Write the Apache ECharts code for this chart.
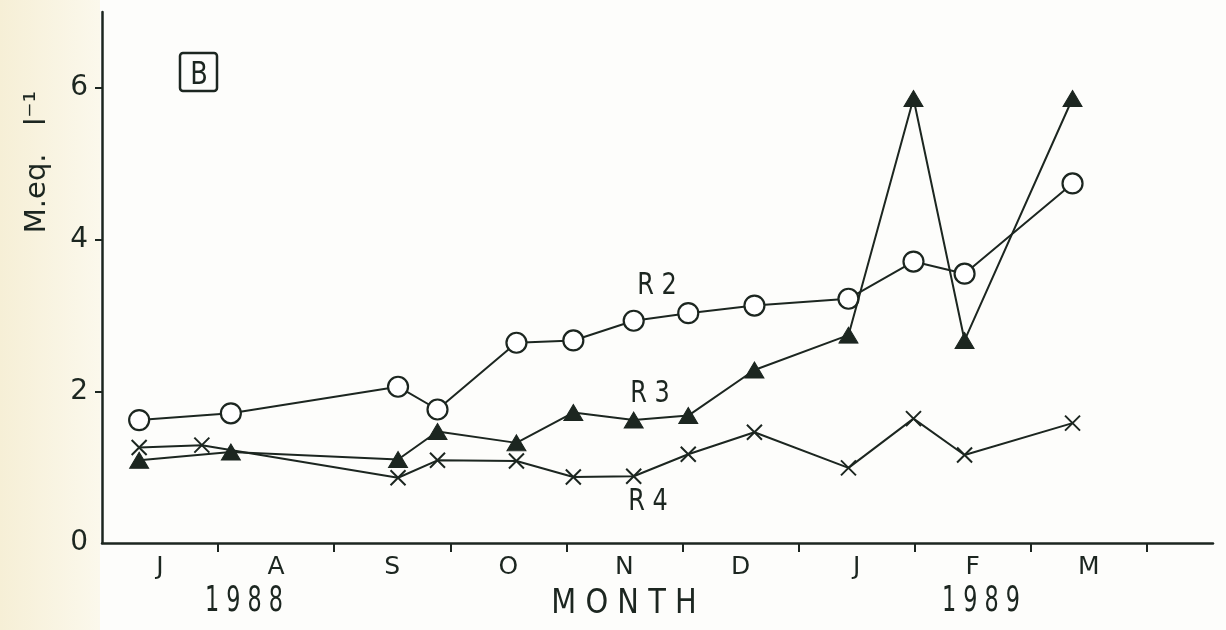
<!DOCTYPE html>
<html>
<head>
<meta charset="utf-8">
<script src="https://cdn.jsdelivr.net/npm/echarts@6/dist/echarts.min.js"></script>
<style>
html,body{margin:0;padding:0;background:#fdfdfb;}
#chart{width:1226px;height:630px;}
</style>
</head>
<body>
<div id="chart"></div>
<script>
// x positions in months counted from 1 July 1988 (sampling dates)
var r2X = [0.32, 1.11, 2.55, 2.89, 3.57, 4.06, 4.58, 5.05, 5.62, 6.43, 6.99, 7.43, 8.36];
var r2Y = [1.62, 1.71, 2.06, 1.76, 2.64, 2.67, 2.93, 3.03, 3.13, 3.22, 3.71, 3.55, 4.74];
var r3X = [0.32, 1.11, 2.55, 2.89, 3.57, 4.06, 4.58, 5.05, 5.62, 6.43, 6.99, 7.43, 8.36];
var r3Y = [1.09, 1.20, 1.10, 1.47, 1.32, 1.72, 1.62, 1.68, 2.28, 2.74, 5.86, 2.67, 5.86];
var r4X = [0.32, 0.86, 2.55, 2.89, 3.57, 4.06, 4.58, 5.05, 5.62, 6.43, 6.99, 7.43, 8.36];
var r4Y = [1.26, 1.29, 0.86, 1.09, 1.08, 0.87, 0.88, 1.17, 1.46, 0.99, 1.64, 1.16, 1.58];

var monthLabels = ['J', 'A', 'S', 'O', 'N', 'D', 'J', 'F', 'M'];
var monthLabelPos = [0.5, 1.5, 2.5, 3.5, 4.5, 5.5, 6.5, 7.5, 8.5];
var monthTickPos = [1, 2, 3, 4, 5, 6, 7, 8, 9];
var yTickValues = [0, 2, 4, 6];
var seriesNames = ['R2', 'R3', 'R4'];

var INK = '#1c2620';
var FONT = '"DejaVu Sans", sans-serif';

function pairs(xs, ys) { return xs.map(function (x, i) { return [x, ys[i]]; }); }

var chart = echarts.init(document.getElementById('chart'), null, {renderer: 'canvas'});

function txt(t, x, y, size, sx, extra) {
  var o = {
    type: 'text', x: x, y: y, scaleX: sx || 1, silent: true,
    style: {text: t, fill: INK, font: size + 'px ' + FONT, align: 'center', verticalAlign: 'middle'}
  };
  if (extra) { for (var k in extra) { o[k] = extra[k]; } }
  return o;
}

var option = {
  backgroundColor: '#fdfdfb',
  animation: false,
  grid: {left: 102, top: 12, right: 13, bottom: 87, containLabel: false},
  xAxis: {
    type: 'value', min: 0, max: 9.57,
    splitLine: {show: false},
    axisLine: {show: true, onZero: false, lineStyle: {color: INK, width: 2.5}},
    axisTick: {show: true, customValues: monthTickPos, length: 9, inside: false, lineStyle: {color: INK, width: 2}},
    axisLabel: {
      customValues: monthLabelPos, margin: 12, color: INK, fontFamily: FONT, fontSize: 25,
      formatter: function (v) { return monthLabels[Math.round(v - 0.5)] || ''; }
    }
  },
  yAxis: {
    type: 'value', min: 0, max: 7,
    splitLine: {show: false},
    axisLine: {show: true, onZero: false, lineStyle: {color: INK, width: 2.5}},
    axisTick: {show: true, customValues: [2, 4, 6], length: 7, lineStyle: {color: INK, width: 2}},
    axisLabel: {customValues: yTickValues, margin: 14, color: INK, fontFamily: FONT, fontSize: 28}
  },
  series: [
    {
      name: seriesNames[0], type: 'line', data: pairs(r2X, r2Y),
      symbol: 'circle', symbolSize: 20,
      lineStyle: {color: INK, width: 2},
      itemStyle: {color: '#ffffff', borderColor: INK, borderWidth: 2.2},
      z: 3
    },
    {
      name: seriesNames[1], type: 'line', data: pairs(r3X, r3Y),
      symbol: 'triangle', symbolSize: [19, 16],
      lineStyle: {color: INK, width: 2},
      itemStyle: {color: INK, borderColor: INK, borderWidth: 1},
      z: 4
    },
    {
      name: seriesNames[2], type: 'line', data: pairs(r4X, r4Y),
      symbol: 'path://M0,0L10,10M10,0L0,10', symbolSize: 15,
      lineStyle: {color: INK, width: 2},
      itemStyle: {color: 'none', borderColor: INK, borderWidth: 2},
      z: 2
    }
  ],
  graphic: [
    {
      type: 'rect', z: -10, silent: true,
      shape: {x: 0, y: 0, width: 100, height: 630},
      style: {fill: new echarts.graphic.LinearGradient(0, 0, 1, 0, [
        {offset: 0, color: '#f6efd6'}, {offset: 1, color: '#fbf8ec'}])}
    },
    txt('M.eq.   l\u207B\u00B9', 37, 162, 29, 1, {rotation: Math.PI / 2}),
    {
      type: 'rect', silent: true,
      shape: {x: 180, y: 53, width: 37, height: 38, r: 3},
      style: {fill: 'none', stroke: INK, lineWidth: 2.5}
    },
    txt('B', 199, 76, 32, 0.8),
    txt('R 2', 657, 286, 30, 0.8),
    txt('R 3', 650, 394, 30, 0.8),
    txt('R 4', 648, 502, 30, 0.8),
    txt('1 9 8 8', 244, 602, 36, 0.62),
    txt('M O N T H', 624, 604, 34, 0.85),
    txt('1 9 8 9', 981, 602, 36, 0.62)
  ]
};
chart.setOption(option);
</script>
</body>
</html>
